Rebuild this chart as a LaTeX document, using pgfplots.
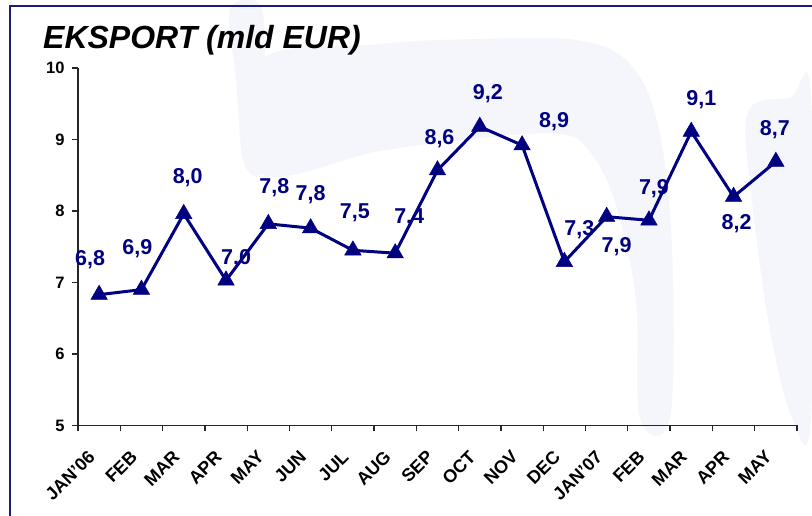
\documentclass[border=0pt]{standalone}
\usepackage{fontspec}
\setmainfont{Liberation Sans}
\usepackage{pgfplots}
\usepackage{pgfplotstable}
\pgfplotsset{compat=1.18}
\definecolor{navyc}{HTML}{000080}
\definecolor{framec}{HTML}{1C1C7A}
\definecolor{wm}{HTML}{F5F6FC}
\pgfplotstableread{
x y lab dx dy
0 6.83 6,8 -9 35
1 6.90 6,9 -4 41
2 7.96 8,0 4 36
3 7.03 7,0 10 22
4 7.82 7,8 6 36
5 7.76 7,8 0 33
6 7.45 7,5 2 38
7 7.41 7,4 14 35
8 8.57 8,6 2 32
9 9.18 9,2 8 33
10 8.92 8,9 32 24
11 7.29 7,3 15 32
12 7.92 7,9 10 -30
13 7.87 7,9 5 32
14 9.11 9,1 10 32
15 8.20 8,2 3 -27
16 8.69 8,7 -1 32
}\data
\begin{document}
\begin{tikzpicture}
\useasboundingbox (0,0) rectangle (812pt,516pt);
\fill[white] (0,0) rectangle (812pt,516pt);
\begin{scope}[x=1pt, y=-1pt, yshift=516pt]
  \fill[wm] plot[smooth cycle, tension=0.6] coordinates {(258,62) (380,44) (480,39) (575,40) (628,62) (658,125) (672,250) (670,418) (640,418) (636,300) (616,205) (590,152) (560,134) (480,138) (380,151) (260,173)};
  \fill[wm] plot[smooth cycle, tension=0.5] coordinates {(230,9) (262,9) (264,120) (260,175) (243,160) (236,80)};
  \fill[wm] plot[smooth cycle, tension=0.6] coordinates {(748,112) (790,98) (811,96) (811,418) (792,418) (770,330) (752,200)};
\end{scope}
\draw[framec, line width=2.2pt] (10pt,-2pt) -- (10pt,510pt) -- (814pt,510pt);
\node[anchor=base west, inner sep=0pt, font=\fontsize{32}{36}\selectfont\bfseries\itshape] at (43pt,467pt) {EKSPORT (mld EUR)};
\begin{axis}[
  at={(78pt,90.5pt)}, anchor=south west,
  scale only axis, width=719pt, height=357.5pt,
  xmin=-0.5, xmax=16.5, ymin=5, ymax=10,
  axis x line*=bottom, axis y line*=left,
  axis line style={-, line width=1.3pt, black!85},
  tick style={line width=1.3pt, black!85},
  tick align=outside, major tick length=6pt,
  xtick={-0.5,0.5,...,16.5},
  x tick label as interval,
  xticklabels={JAN'06,FEB,MAR,APR,MAY,JUN,JUL,AUG,SEP,OCT,NOV,DEC,JAN'07,FEB,MAR,APR,MAY},
  ytick={5,6,...,10},
  /pgf/number format/assume math mode=true,
  yticklabel style={font=\fontsize{16.5}{18}\selectfont\bfseries, xshift=-4pt},
  xticklabel style={font=\fontsize{18}{20}\selectfont\bfseries, xshift=-5pt, yshift=-20pt, rotate=45, anchor=east},
  clip=false,
]
\addplot[navyc, line width=3pt, mark=triangle*, mark size=9.5pt,
  mark options={solid, fill=navyc, draw=navyc, line width=0.5pt},
  nodes near coords, point meta=explicit symbolic,
  visualization depends on={\thisrow{dx} \as \dx},
  visualization depends on={\thisrow{dy} \as \dy},
  nodes near coords style={anchor=center, inner sep=0pt, text=navyc,
    font=\fontsize{21.5}{24}\selectfont\bfseries, xshift=\dx, yshift=\dy},
] table[x=x, y=y, meta=lab] {\data};
\end{axis}
\end{tikzpicture}
\end{document}
